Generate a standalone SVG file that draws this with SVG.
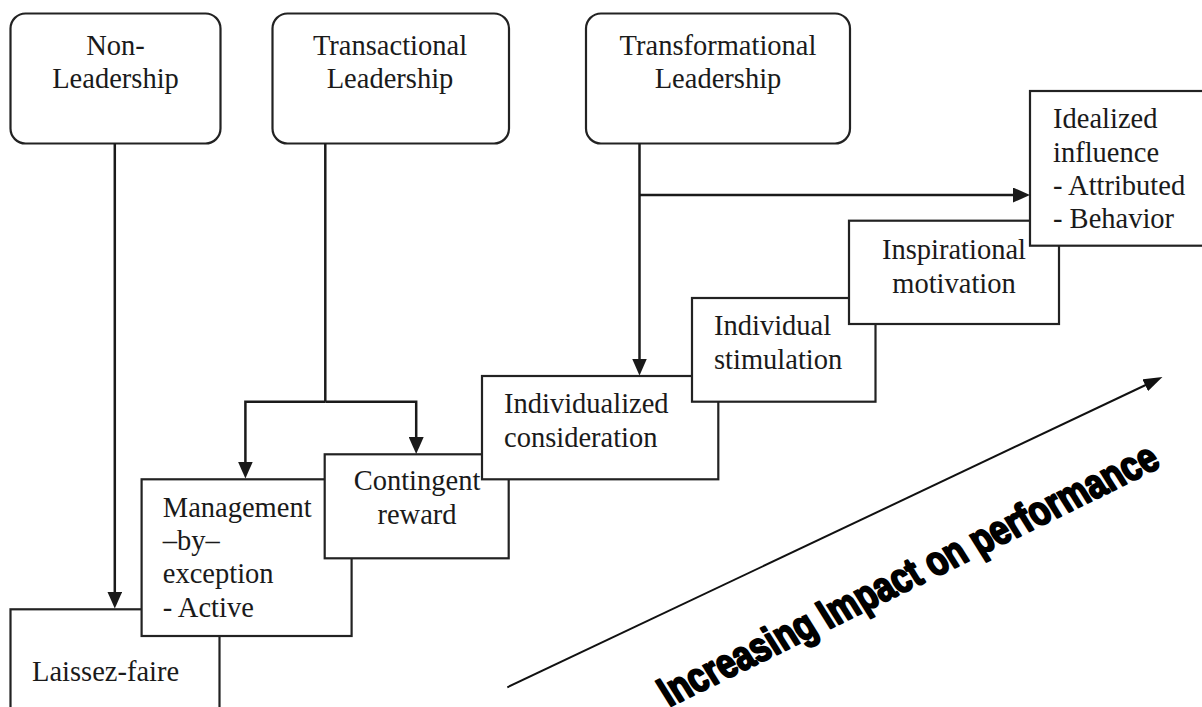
<svg xmlns="http://www.w3.org/2000/svg" width="1202" height="707" viewBox="0 0 1202 707">
<style>
  .box { fill: #ffffff; stroke: #222222; stroke-width: 2.2; }
  .lbl { font-family: "Liberation Serif", "Times New Roman", serif; font-size: 28.5px; fill: #1a1a1a; }
  .mid { text-anchor: middle; }
  .con { fill: none; stroke: #1a1a1a; stroke-width: 2.5; }
  .perf { fill: none; stroke: #111111; stroke-width: 2; }
  .big { font-family: "Liberation Sans", Arial, sans-serif; font-weight: bold; font-size: 42px; fill: #000000; stroke: #000000; stroke-width: 2.2; stroke-linejoin: round; }
</style>
<defs>
  <marker id="arr" markerUnits="userSpaceOnUse" markerWidth="17" markerHeight="15" refX="9" refY="7.5" orient="auto">
    <path d="M0,0 L17,7.5 L0,15 Z" fill="#1a1a1a"/>
  </marker>
  <marker id="arr2" markerUnits="userSpaceOnUse" markerWidth="19" markerHeight="13" refX="11" refY="6.5" orient="auto">
    <path d="M0,0 L19,6.5 L0,13 Z" fill="#111111"/>
  </marker>
</defs>
<rect width="1202" height="707" fill="#ffffff"/>

<g id="non-leadership">
  <rect class="box" x="10.5" y="13.5" width="210" height="130" rx="15" ry="15"/>
  <text class="lbl mid" x="115.5" y="55">Non-</text>
  <text class="lbl mid" x="115.5" y="88">Leadership</text>
</g>
<g id="transactional">
  <rect class="box" x="272.5" y="13.5" width="236.5" height="130" rx="15" ry="15"/>
  <text class="lbl mid" x="390" y="55">Transactional</text>
  <text class="lbl mid" x="390" y="88">Leadership</text>
</g>
<g id="transformational">
  <rect class="box" x="586" y="13.5" width="264" height="130" rx="15" ry="15"/>
  <text class="lbl mid" x="718" y="55">Transformational</text>
  <text class="lbl mid" x="718" y="88">Leadership</text>
</g>

<g id="laissez-faire">
  <rect class="box" x="10.5" y="609.3" width="209" height="130"/>
  <text class="lbl" x="32" y="681">Laissez-faire</text>
</g>
<g id="management-by-exception">
  <rect class="box" x="141.6" y="479.3" width="210" height="156.7"/>
  <text class="lbl" x="162.8" y="516.7">Management</text>
  <text class="lbl" x="162.8" y="550">–by–</text>
  <text class="lbl" x="162.8" y="583">exception</text>
  <text class="lbl" x="162.8" y="616.5">- Active</text>
</g>
<g id="contingent-reward">
  <rect class="box" x="324.7" y="454.3" width="184" height="104"/>
  <text class="lbl mid" x="417" y="490">Contingent</text>
  <text class="lbl mid" x="417" y="524.3">reward</text>
</g>
<g id="individualized-consideration">
  <rect class="box" x="482" y="376" width="236.3" height="103.3"/>
  <text class="lbl" x="504" y="412.7">Individualized</text>
  <text class="lbl" x="504" y="447">consideration</text>
</g>
<g id="individual-stimulation">
  <rect class="box" x="692" y="298" width="183.5" height="103.7"/>
  <text class="lbl" x="714" y="335">Individual</text>
  <text class="lbl" x="714" y="369">stimulation</text>
</g>
<g id="inspirational-motivation">
  <rect class="box" x="849" y="220.7" width="210" height="103.3"/>
  <text class="lbl mid" x="954" y="259">Inspirational</text>
  <text class="lbl mid" x="954" y="293">motivation</text>
</g>
<g id="idealized-influence">
  <rect class="box" x="1030" y="91" width="200" height="154.7"/>
  <text class="lbl" x="1053" y="128.3">Idealized</text>
  <text class="lbl" x="1053" y="161.7">influence</text>
  <text class="lbl" x="1053" y="195">- Attributed</text>
  <text class="lbl" x="1053" y="228.3">- Behavior</text>
</g>

<g id="connectors">
  <path class="con" d="M114.8,143.5 V600.5" marker-end="url(#arr)"/>
  <path class="con" d="M325.3,143.5 V401.7"/>
  <path class="con" d="M325.3,401.7 H245.4 V470.5" marker-end="url(#arr)"/>
  <path class="con" d="M325.3,401.7 H416.2 V446" marker-end="url(#arr)"/>
  <path class="con" d="M639.5,143.5 V367.5" marker-end="url(#arr)"/>
  <path class="con" d="M639.5,195 H1022" marker-end="url(#arr)"/>
  <path class="perf" d="M507.3,687.3 L1155.2,380.5" marker-end="url(#arr2)"/>
</g>

<text class="big" transform="translate(669,707) rotate(-26) skewX(6) scale(0.8,1)">Increasing Impact on performance</text>
</svg>
